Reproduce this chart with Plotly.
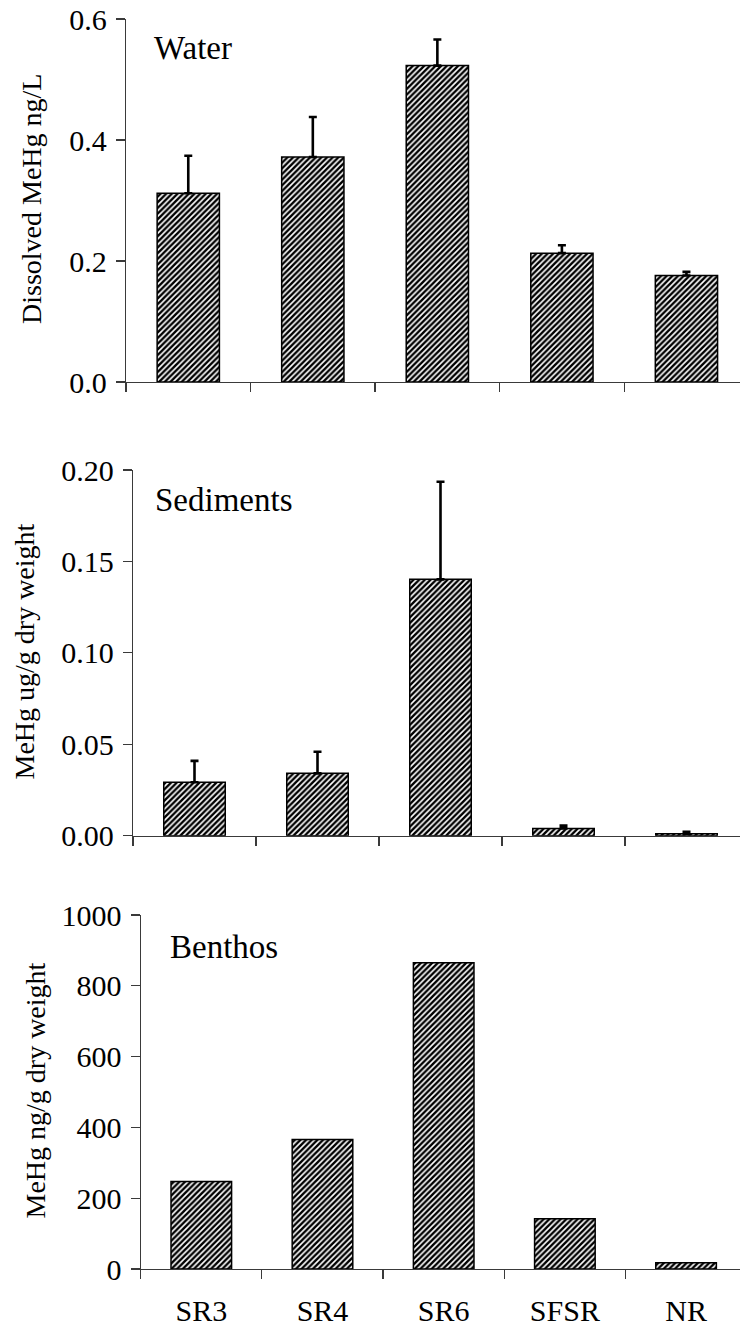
import plotly.graph_objects as go

categories = ["SR3", "SR4", "SR6", "SFSR", "NR"]

water = [0.312, 0.372, 0.523, 0.213, 0.176]
water_err = [0.062, 0.066, 0.043, 0.013, 0.006]

sediments = [0.0292, 0.0341, 0.1402, 0.0040, 0.0011]
sediments_err = [0.0117, 0.0118, 0.0534, 0.0015, 0.0011]

benthos = [247, 366, 865, 142, 18]

panel_titles = ["Water", "Sediments", "Benthos"]
y_titles = ["Dissolved MeHg ng/L", "MeHg ug/g dry weight", "MeHg ng/g dry weight"]

W, H = 740, 1329
FONT = "Liberation Serif"

def px_y(p):
    return 1 - p / H

def px_x(p):
    return p / W

fig = go.Figure()

pattern = dict(shape="/", size=4, solidity=0.6, fgcolor="black", bgcolor="white")
bar_line = dict(color="black", width=1.5)

def err(vals):
    return dict(type="data", symmetric=False, array=vals, arrayminus=[0] * len(vals),
                color="black", thickness=2.6, width=4)

fig.add_trace(go.Bar(x=categories, y=water, xaxis="x", yaxis="y",
                     marker=dict(color="white", pattern=pattern, line=bar_line),
                     error_y=err(water_err), showlegend=False))
fig.add_trace(go.Bar(x=categories, y=sediments, xaxis="x2", yaxis="y2",
                     marker=dict(color="white", pattern=pattern, line=bar_line),
                     error_y=err(sediments_err), showlegend=False))
fig.add_trace(go.Bar(x=categories, y=benthos, xaxis="x3", yaxis="y3",
                     marker=dict(color="white", pattern=pattern, line=bar_line),
                     showlegend=False))

axis_color = "#3a3a3a"
tickfont = dict(family=FONT, size=30, color="black")

def xaxis(dom_left, rng_right, anchor, show_labels):
    return dict(domain=[px_x(dom_left), 1], anchor=anchor, type="category",
                range=[-0.5, rng_right], showline=True, linecolor=axis_color, linewidth=1.2,
                ticks="outside", ticklen=9, tickwidth=1.2, tickcolor=axis_color,
                tickson="boundaries", showgrid=False, zeroline=False, automargin=False,
                showticklabels=show_labels, tickfont=tickfont, ticklabelstandoff=15,
                ticklabeloverflow="allow", fixedrange=True)

def yaxis(top, bottom, anchor, rng, dtick, fmt):
    return dict(domain=[px_y(bottom), px_y(top)], anchor=anchor, range=rng, dtick=dtick,
                tickformat=fmt, showline=True, linecolor=axis_color, linewidth=1.2,
                ticks="outside", ticklen=9, tickwidth=1.2, tickcolor=axis_color,
                showgrid=False, zeroline=False, tickfont=tickfont, ticklabelstandoff=3,
                ticklabeloverflow="allow", automargin=False, fixedrange=True)

fig.update_layout(
    template="none",
    width=W, height=H,
    margin=dict(l=0, r=0, t=0, b=0, pad=0),
    paper_bgcolor="white", plot_bgcolor="white",
    bargap=0.5,
    hovermode=False,
    font=dict(family=FONT, color="black"),
    xaxis=xaxis(126, 4.43, "y", False),
    yaxis=yaxis(19, 382, "x", [0, 0.6], 0.2, ".1f"),
    xaxis2=xaxis(133, 4.435, "y2", False),
    yaxis2=yaxis(470, 835.7, "x2", [0, 0.2], 0.05, ".2f"),
    xaxis3=xaxis(140.7, 4.445, "y3", True),
    yaxis3=yaxis(915, 1269, "x3", [0, 1000], 200, "d"),
)

# panel labels
panel_pos = [(152, 48), (153, 500), (168, 947)]
for t, (x, y) in zip(panel_titles, panel_pos):
    fig.add_annotation(text=t, x=px_x(x), y=px_y(y), xref="paper", yref="paper",
                       xanchor="left", yanchor="middle", showarrow=False,
                       font=dict(family=FONT, size=33, color="black"))

# y-axis titles
ytitle_pos = [(31, 199), (24, 651.5), (34.5, 1091)]
for t, (x, y) in zip(y_titles, ytitle_pos):
    fig.add_annotation(text=t, x=px_x(x), y=px_y(y), xref="paper", yref="paper",
                       xanchor="center", yanchor="middle", showarrow=False, textangle=-90,
                       font=dict(family=FONT, size=28, color="black"))

# remove the default 8px page margin so the figure fills the window exactly
fig.write_html("out.html",
               config={"displayModeBar": False, "staticPlot": True},
               post_script="document.body.style.margin='0';document.body.style.overflow='hidden';")
